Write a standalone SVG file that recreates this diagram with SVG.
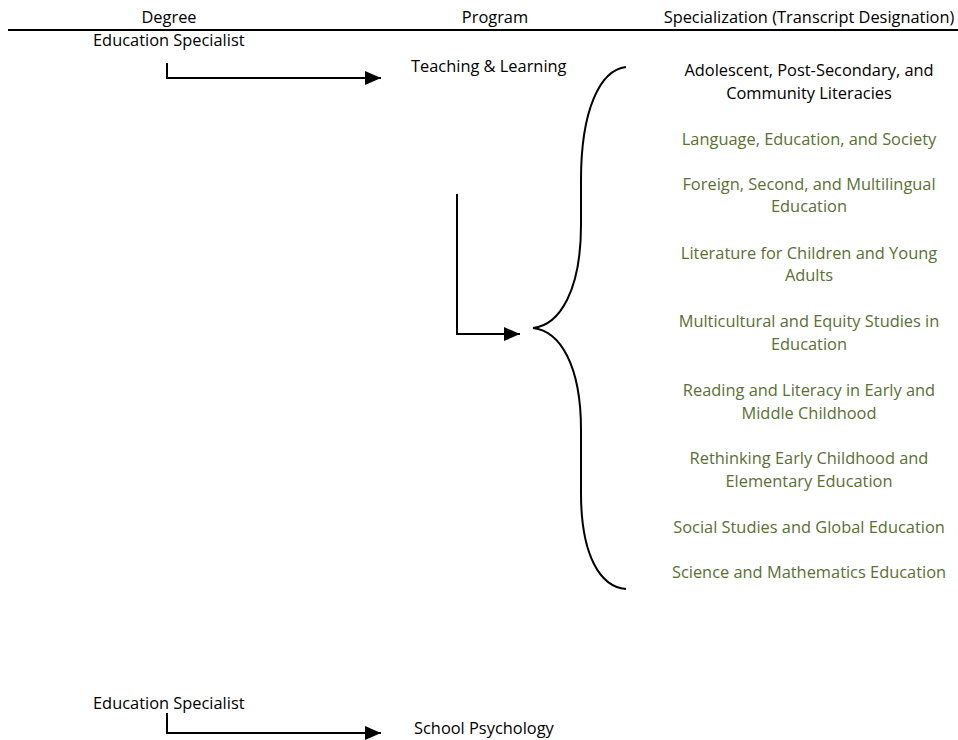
<svg xmlns="http://www.w3.org/2000/svg" width="958" height="740" viewBox="0 0 958 740">
<style>
text{font-family:"Open Sans","Liberation Sans",sans-serif;font-size:16.4px;fill:#000}
.g{fill:#5a7034}
.c{text-anchor:middle}
.ln{stroke:#000;stroke-width:2;fill:none}
</style>
<defs>
<marker id="ah" markerWidth="16" markerHeight="14" refX="16" refY="7" orient="auto" markerUnits="userSpaceOnUse">
<path d="M0,0 L16,7 L0,14 Z" fill="#000"/>
</marker>
</defs>
<rect width="958" height="740" fill="#fff"/>
<g id="header">
<text class="c" x="169" y="23">Degree</text>
<text class="c" x="495" y="23">Program</text>
<text class="c" x="809" y="23">Specialization (Transcript Designation)</text>
<line x1="8" y1="30" x2="958" y2="30" stroke="#000" stroke-width="2"/>
</g>
<g id="degree1"><text x="93" y="46">Education Specialist</text></g>
<g id="program1"><text x="411" y="72">Teaching &amp; Learning</text></g>
<g id="degree2"><text x="93" y="709">Education Specialist</text></g>
<g id="program2"><text x="414" y="734">School Psychology</text></g>
<g id="specializations">
<text class="c" x="809" y="76">Adolescent, Post-Secondary, and</text>
<text class="c" x="809" y="99">Community Literacies</text>
<text class="c g" x="809" y="145">Language, Education, and Society</text>
<text class="c g" x="809" y="190">Foreign, Second, and Multilingual</text>
<text class="c g" x="809" y="212">Education</text>
<text class="c g" x="809" y="259">Literature for Children and Young</text>
<text class="c g" x="809" y="281">Adults</text>
<text class="c g" x="809" y="327">Multicultural and Equity Studies in</text>
<text class="c g" x="809" y="350">Education</text>
<text class="c g" x="809" y="396">Reading and Literacy in Early and</text>
<text class="c g" x="809" y="419">Middle Childhood</text>
<text class="c g" x="809" y="464">Rethinking Early Childhood and</text>
<text class="c g" x="809" y="487">Elementary Education</text>
<text class="c g" x="809" y="533">Social Studies and Global Education</text>
<text class="c g" x="809" y="578">Science and Mathematics Education</text>
</g>
<g id="connectors">
<path class="ln" d="M167,63 L167,78 L381,78" marker-end="url(#ah)"/>
<path class="ln" d="M457,194 L457,334 L520,334" marker-end="url(#ah)"/>
<path class="ln" d="M167,713 L167,733 L381,733" marker-end="url(#ah)"/>
<path class="ln" d="M626,67 C600,70 581,110 581,180 L581,225 C581,290 560,325 533,328 C560,331 581,365 581,430 L581,493 C581,555 600,587 626,589"/>
</g>
</svg>
